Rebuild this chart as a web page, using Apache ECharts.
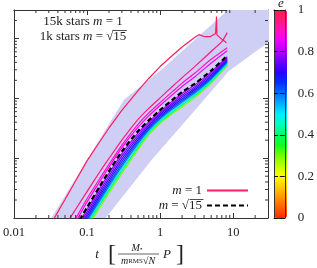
<!DOCTYPE html>
<html><head><meta charset="utf-8">
<script src="https://cdn.jsdelivr.net/npm/echarts@6/dist/echarts.min.js"></script>
<style>html,body{margin:0;padding:0;background:#fff}#c{width:317px;height:268px}</style>
</head><body><div id="c"></div>
<script>
// ---- data ----
const xTickLabels = ['0.01', '0.1', '1', '10'];
const colorbarTicks = [0, 0.2, 0.4, 0.6, 0.8, 1];

// shaded band (polygon outline in data units)
const bandT = [0.0325, 0.32, 1.04, 8.6, 14.6, 200, 200, 29.7, 8.6, 2.65, 0.77, 0.18];
const bandY = [1, 95, 300, 3050, 5400, 5400, 4850, 850, 280, 53, 9.4, 1];

// common time grid for the bundle
const tGrid = [0.07, 0.1, 0.15, 0.2, 0.3, 0.5, 0.7, 1, 1.5, 2, 3, 5, 8.3];
const yM90 = [0.98, 2.1, 4.6, 7.9, 16.5, 37, 57, 85, 132, 180, 265, 450, 704];
const yM86 = [0.85, 1.85, 4.1, 7.1, 15, 33, 51, 76, 117, 158, 230, 390, 627];
const yDash = [0.71, 1.5, 3.41, 6.06, 13, 28.4, 42.8, 63.7, 96.2, 128, 177, 291, 517];
const yE80 = [0.66, 1.39, 3.14, 5.57, 11.9, 26.4, 40.5, 60.5, 91.2, 121, 168, 277, 497];
const yE76 = [0.61, 1.26, 2.84, 5.04, 10.8, 24.3, 37.8, 57, 85.5, 113, 157, 262, 474];
const yE72 = [0.56, 1.15, 2.58, 4.55, 9.75, 22.3, 35.4, 53.6, 80.2, 105, 148, 247, 454];
const yE68 = [0.51, 1.05, 2.34, 4.12, 8.8, 20.5, 33.2, 50.5, 75.3, 98.2, 139, 233, 434];
const yE64 = [0.47, 0.96, 2.14, 3.76, 8.0, 19, 31.2, 47.7, 71, 92, 131, 221, 415];
const yE60 = [0.44, 0.89, 1.97, 3.45, 7.36, 17.7, 29.5, 45.4, 67.3, 86.9, 124, 211, 400];
const yE50 = [0.41, 0.83, 1.81, 3.18, 6.76, 16.5, 27.9, 43.1, 63.8, 82, 117, 201, 385];
const yE40 = [0.38, 0.76, 1.67, 2.92, 6.2, 15.3, 26.4, 41, 60.5, 77.4, 111, 191, 371];
const yE30 = [0.35, 0.69, 1.5, 2.62, 5.56, 14, 24.6, 38.4, 56.5, 72, 104, 180, 352];

const tRed1 = [0.03, 0.05, 0.07, 0.1, 0.15, 0.2, 0.3, 0.5, 0.7, 1, 1.5, 2, 3, 3.4, 4, 4.9, 5.75, 5.92, 6.0, 7.1, 8.1];
const yRed1 = [0.69, 2.04, 4.2, 9, 19, 32, 63, 135, 215, 340, 530, 720, 1050, 1160, 1080, 1080, 1210, 2330, 1150, 960, 850];
const tRed2 = [0.05, 0.07, 0.1, 0.15, 0.2, 0.3, 0.5, 0.7, 1, 1.5, 2, 3, 5, 7, 8.3];
const yRed2 = [0.74, 1.4, 2.76, 5.94, 9.9, 20, 44.5, 68, 102, 161, 221, 342, 608, 887, 1256];

// eccentricity of each coloured curve
const eBundle = [0.3, 0.4, 0.5, 0.6, 0.64, 0.68, 0.72, 0.76, 0.8];
const yBundle = [yE30, yE40, yE50, yE60, yE64, yE68, yE72, yE76, yE80];
const eM = [0.86, 0.9];
const yM = [yM86, yM90];
const eRed2 = 0.95, eRed1 = 0.98;

const palette = ['#ff2a00','#ff5f00','#ff9600','#ffcc00','#ffff00','#c0ff00','#70ff00','#10ff20','#00ff66','#00ffc0','#00eeff','#00b0ff','#0070ff','#0030ff','#2a00ff','#6a00ff','#b000ff','#f000ff','#ff10c0','#ff1880','#ff2048'];

// ---- helpers ----
const FONT = 'Liberation Serif';
const ink = '#222';
function cmap(e) { return echarts.color.lerp(e, palette); }
function zip(t, y) { return t.map((v, i) => [v, y[i]]); }
const mctx = document.createElement('canvas').getContext('2d');
function tw(s, italic) { mctx.font = (italic ? 'italic ' : '') + '13px "Liberation Serif"'; return mctx.measureText(s).width; }

const xMin = 0.01, xMax = 30, yMin = 1, yMax = 3000;
const xMinor = [], yMinor = [];
for (let d = 0.01; d < xMax; d *= 10) for (let k = 2; k <= 9; k++) { const v = +(k * d).toPrecision(3); if (v < xMax) xMinor.push([v, yMin]); }
for (let d = 1; d < yMax; d *= 10) for (let k = 2; k <= 9; k++) { const v = k * d; if (v < yMax) yMinor.push([xMin, v]); }

const series = [];
series.push({
  type: 'custom', xAxisIndex: 0, yAxisIndex: 0, clip: true, z: 1, silent: true,
  data: [[bandT[0], bandY[0]]],
  renderItem: function (params, api) {
    const pts = bandT.map((t, i) => api.coord([t, bandY[i]]));
    return { type: 'polygon', shape: { points: pts }, style: { fill: '#cfcff6' } };
  }
});
function lineSeries(data, color, width, extra) {
  return Object.assign({
    type: 'line', xAxisIndex: 0, yAxisIndex: 0, data: data, symbol: 'none', showSymbol: false,
    clip: true, z: 3, silent: true, smooth: 0.2,
    lineStyle: { color: color, width: width }, itemStyle: { color: color }
  }, extra || {});
}
eBundle.forEach((e, i) => series.push(lineSeries(zip(tGrid, yBundle[i]), cmap(e), 1.2)));
eM.forEach((e, i) => series.push(lineSeries(zip(tGrid, yM[i]), cmap(e), 1.2)));
series.push(lineSeries(zip(tRed2, yRed2), cmap(eRed2), 1.2));
series.push(lineSeries(zip(tRed1, yRed1), cmap(eRed1), 1.2, { name: 'm = 1', smooth: false }));
series.push(lineSeries(zip(tGrid, yDash), '#000', 2.2, { name: 'm = √15', z: 4, lineStyle: { color: '#000', width: 2.2, type: [5, 3] } }));

// minor ticks (log style) on the four sides of the frame
series.push({
  type: 'custom', xAxisIndex: 0, yAxisIndex: 0, clip: false, z: 6, silent: true, data: xMinor,
  renderItem: function (params, api) {
    const cs = params.coordSys; const p = api.coord([api.value(0), yMin]);
    return { type: 'group', children: [
      { type: 'line', shape: { x1: p[0], y1: cs.y + cs.height, x2: p[0], y2: cs.y + cs.height - 3 }, style: { stroke: '#333', lineWidth: 1 } },
      { type: 'line', shape: { x1: p[0], y1: cs.y, x2: p[0], y2: cs.y + 3 }, style: { stroke: '#333', lineWidth: 1 } }
    ] };
  }
});
series.push({
  type: 'custom', xAxisIndex: 0, yAxisIndex: 0, clip: false, z: 6, silent: true, data: yMinor,
  renderItem: function (params, api) {
    const cs = params.coordSys; const p = api.coord([xMin, api.value(1)]);
    return { type: 'group', children: [
      { type: 'line', shape: { x1: cs.x, y1: p[1], x2: cs.x + 3, y2: p[1] }, style: { stroke: '#333', lineWidth: 1 } },
      { type: 'line', shape: { x1: cs.x + cs.width, y1: p[1], x2: cs.x + cs.width - 3, y2: p[1] }, style: { stroke: '#333', lineWidth: 1 } }
    ] };
  }
});

const axLine = { show: true, onZero: false, lineStyle: { color: '#333', width: 1 } };
const tickIn = { show: true, inside: true, length: 5, lineStyle: { color: '#333' } };
const richI = { i: { fontStyle: 'italic', fontFamily: FONT, fontSize: 13, color: ink } };
const legendCommon = { right: 68, orient: 'horizontal', align: 'right', padding: 0, itemWidth: 41, itemHeight: 12, selectedMode: false,
  itemStyle: { opacity: 0 }, textStyle: { fontFamily: FONT, fontSize: 13, color: ink, rich: richI } };

// overlines for the square roots (text layout)
const w15 = tw('15');
const annW = tw('1k stars ') + tw('m', true) + tw(' = √15');
const annEnd = 83 + annW / 2;
const legEnd = 249 - 41 - 5;

const option = {
  animation: false,
  backgroundColor: '#fff',
  grid: [
    { left: 10, top: 10, width: 258, height: 208 },
    { left: 274, top: 10, width: 13, height: 208 }
  ],
  xAxis: [
    { type: 'log', gridIndex: 0, min: xMin, max: xMax, position: 'bottom', axisLine: axLine, axisTick: tickIn, splitLine: { show: false },
      axisLabel: { show: true, margin: 8, fontFamily: FONT, fontSize: 12.5, color: ink, showMaxLabel: false,
        formatter: function (v) { const k = Math.round(Math.log10(v)) + 2; return xTickLabels[k] !== undefined ? xTickLabels[k] : ''; } } },
    { type: 'log', gridIndex: 0, min: xMin, max: xMax, position: 'top', axisLine: axLine, axisTick: tickIn, splitLine: { show: false }, axisLabel: { show: false } },
    { type: 'value', gridIndex: 1, min: 0, max: 1, position: 'bottom', z: 10, axisLine: axLine, axisTick: { show: false }, axisLabel: { show: false }, splitLine: { show: false } },
    { type: 'value', gridIndex: 1, min: 0, max: 1, position: 'top', z: 10, axisLine: axLine, axisTick: { show: false }, axisLabel: { show: false }, splitLine: { show: false } }
  ],
  yAxis: [
    { type: 'log', gridIndex: 0, min: yMin, max: yMax, position: 'left', axisLine: axLine, axisTick: tickIn, axisLabel: { show: false }, splitLine: { show: false } },
    { type: 'log', gridIndex: 0, min: yMin, max: yMax, position: 'right', axisLine: axLine, axisTick: tickIn, axisLabel: { show: false }, splitLine: { show: false } },
    { type: 'value', gridIndex: 1, min: 0, max: 1, interval: 0.2, position: 'left', z: 10, axisLine: axLine,
      axisTick: { show: true, inside: true, length: 4, lineStyle: { color: '#111', width: 1 } }, axisLabel: { show: false }, splitLine: { show: false } },
    { type: 'value', gridIndex: 1, min: 0, max: 1, interval: 0.2, position: 'right', z: 10, axisLine: axLine,
      axisTick: { show: true, inside: true, length: 5, lineStyle: { color: '#111', width: 1 } },
      axisLabel: { show: true, margin: 13, fontFamily: FONT, fontSize: 13, color: ink,
        formatter: function (v) { const i = colorbarTicks.findIndex(c => Math.abs(c - v) < 1e-6); return i >= 0 ? String(colorbarTicks[i]) : ''; } },
      splitLine: { show: false } }
  ],
  visualMap: {
    type: 'continuous', min: 0, max: 1, left: 274, top: 10, itemWidth: 13, itemHeight: 208, padding: 0,
    calculable: false, seriesIndex: [], hoverLink: false, z: 2,
    inRange: { color: palette }, textStyle: { color: ink }
  },
  legend: [
    Object.assign({ data: ['m = 1'], top: 184, formatter: function () { return '{i|m} = 1'; } }, legendCommon),
    Object.assign({ data: ['m = √15'], top: 199, formatter: function () { return '{i|m} = √15'; } }, legendCommon)
  ],
  graphic: [
    { type: 'text', x: 83, y: 22, style: { text: '15k stars {i|m} = 1', rich: richI, font: '13px "Liberation Serif"', fill: ink, textAlign: 'center', textVerticalAlign: 'middle' } },
    { type: 'text', x: 83, y: 37, style: { text: '1k stars {i|m} = √15', rich: richI, font: '13px "Liberation Serif"', fill: ink, textAlign: 'center', textVerticalAlign: 'middle' } },
    { type: 'line', shape: { x1: annEnd - w15 - 0.5, y1: 30.5, x2: annEnd + 0.5, y2: 30.5 }, style: { stroke: ink, lineWidth: 0.8 } },
    { type: 'line', shape: { x1: legEnd - w15 - 0.5, y1: 199.5, x2: legEnd + 0.5, y2: 199.5 }, style: { stroke: ink, lineWidth: 0.8 } },
    { type: 'text', x: 281, y: 4, style: { text: 'e', font: 'italic 13px "Liberation Serif"', fill: ink, textAlign: 'center', textVerticalAlign: 'middle' } },
    { type: 'text', x: 97, y: 255, style: { text: 't', font: 'italic 13px "Liberation Serif"', fill: ink, textAlign: 'center', textVerticalAlign: 'middle' } },
    { type: 'text', x: 112, y: 255, style: { text: '[', font: '24px "Liberation Serif"', fill: ink, textAlign: 'center', textVerticalAlign: 'middle' } },
    { type: 'text', x: 137, y: 248, style: { text: '{i|M}{b|•}', rich: { i: { fontStyle: 'italic', fontSize: 10, fontFamily: FONT, color: ink }, b: { fontSize: 7, fontFamily: FONT, color: ink, verticalAlign: 'bottom' } }, fill: ink, textAlign: 'center', textVerticalAlign: 'middle' } },
    { type: 'line', shape: { x1: 118, y1: 254, x2: 159, y2: 254 }, style: { stroke: ink, lineWidth: 0.7 } },
    { type: 'text', x: 138, y: 261, style: { text: '{i|m}{s|RMS}√{i|N}', rich: { i: { fontStyle: 'italic', fontSize: 10, fontFamily: FONT, color: ink }, s: { fontSize: 7, fontFamily: FONT, color: ink } }, font: '10px "Liberation Serif"', fill: ink, textAlign: 'center', textVerticalAlign: 'middle' } },
    { type: 'text', x: 167, y: 255, style: { text: 'P', font: 'italic 13px "Liberation Serif"', fill: ink, textAlign: 'center', textVerticalAlign: 'middle' } },
    { type: 'text', x: 180, y: 255, style: { text: ']', font: '24px "Liberation Serif"', fill: ink, textAlign: 'center', textVerticalAlign: 'middle' } }
  ],
  series: series
};
const chart = echarts.init(document.getElementById('c'), null, { renderer: 'canvas' });
chart.setOption(option);
</script>
</body></html>
